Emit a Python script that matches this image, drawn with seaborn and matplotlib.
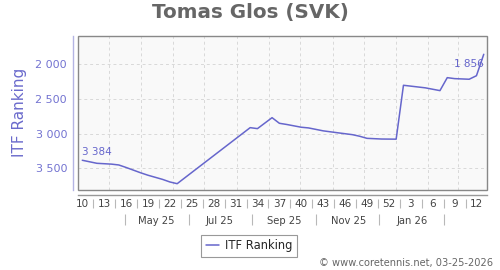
import numpy as np
import pandas as pd
import matplotlib
matplotlib.use("Agg")
import matplotlib.pyplot as plt
import matplotlib.dates as mdates
from matplotlib.patches import Rectangle
from matplotlib.ticker import FixedLocator, FuncFormatter
import seaborn as sns

# ---- data (ISO year-week of each ranking, ITF ranking) ----
iso_weeks = ["2025-10", "2025-12", "2025-14", "2025-15", "2025-16", "2025-18",
             "2025-19", "2025-21", "2025-22", "2025-23", "2025-33", "2025-34",
             "2025-36", "2025-37", "2025-38", "2025-40", "2025-41", "2025-43",
             "2025-45", "2025-47", "2025-48", "2025-49", "2025-51", "2026-01",
             "2026-02", "2026-05", "2026-07", "2026-08", "2026-09", "2026-11",
             "2026-12", "2026-13"]
ranking = [3384, 3428, 3440, 3452, 3488, 3565,
           3600, 3660, 3697, 3722, 2914, 2928,
           2770, 2851, 2868, 2908, 2918, 2960,
           2988, 3015, 3038, 3068, 3078, 3080,
           2303, 2340, 2380, 2193, 2207, 2216,
           2165, 1856]
week_tick_weeks = ["2025-10", "2025-13", "2025-16", "2025-19", "2025-22", "2025-25",
                   "2025-28", "2025-31", "2025-34", "2025-37", "2025-40", "2025-43",
                   "2025-46", "2025-49", "2025-52", "2026-03", "2026-06", "2026-09",
                   "2026-12"]
week_tick_labels = ["10", "13", "16", "19", "22", "25", "28", "31", "34", "37",
                    "40", "43", "46", "49", "52", "3", "6", "9", "12"]
month_label_months = ["2025-05", "2025-07", "2025-09", "2025-11", "2026-01"]
month_labels = ["May 25", "Jul 25", "Sep 25", "Nov 25", "Jan 26"]
y_ticks = [2000, 2500, 3000, 3500]
title = "Tomas Glos (SVK)"
series_name = "ITF Ranking"
credit = "\u00a9 www.coretennis.net, 03-25-2026"


def iso_thursday(s):
    return pd.to_datetime(s + "-4", format="%G-%V-%u")


dates = [iso_thursday(s) for s in iso_weeks]
df = pd.DataFrame({"date": dates, "rank": ranking})

LINE = "#6666cc"
LABEL = "#7373d1"

sns.set_style("white")
plt.rcParams["font.family"] = ["DejaVu Sans"]

fig = plt.figure(figsize=(5.0, 2.7), dpi=100)
ax = fig.add_axes([0.1566, 0.2963, 0.818, 0.5715])
ax.set_facecolor("#f9f9f9")

sns.lineplot(data=df, x="date", y="rank", ax=ax, color=LINE, linewidth=1.1,
             label=series_name, legend=False)

# limits
d0 = mdates.date2num(dates[0])
ax.set_xlim(d0 - 3.8, d0 + 388.4)
ax.set_ylim(3813, 1588)

# grid
ax.xaxis.set_major_locator(mdates.MonthLocator())
ax.xaxis.set_major_formatter(FuncFormatter(lambda v, p: ""))
ax.yaxis.set_major_locator(FixedLocator(y_ticks))
ax.yaxis.set_major_formatter(FuncFormatter(lambda v, p: f"{int(v):,}".replace(",", " ")))
ax.grid(True, which="major", color="#d8d8d8", linestyle=(0, (3, 3)), linewidth=0.7)

# spines
for s in ["top", "right"]:
    ax.spines[s].set_visible(False)
ax.spines["left"].set_position(("outward", 3.6))
ax.spines["left"].set_color("#b4b4e4")
ax.spines["left"].set_linewidth(1.0)
ax.spines["bottom"].set_position(("outward", 3.6))
ax.spines["bottom"].set_color("#999999")
ax.spines["bottom"].set_linewidth(1.0)
ax.add_patch(Rectangle((0, 0), 1, 1, transform=ax.transAxes, fill=False,
                       edgecolor="#888888", linewidth=1.0, clip_on=False, zorder=5))

ax.tick_params(axis="y", length=0, pad=4.5, labelsize=8, labelcolor=LABEL)
ax.tick_params(axis="x", length=2.5, width=0.8, color="#aaaaaa", direction="out", pad=0)

ax.set_xlabel("")
ax.set_ylabel(series_name, fontsize=11, color="#6b6bcc", labelpad=6)

# week labels row
xt = ax.get_xaxis_transform()
wpos = [mdates.date2num(iso_thursday(s)) for s in week_tick_weeks]
for x, lab in zip(wpos, week_tick_labels):
    ax.text(x, -0.0875, lab, transform=xt, ha="center", va="center",
            fontsize=7.5, color="#444444")
seps = [(a + b) / 2 for a, b in zip(wpos[:-1], wpos[1:])]
ax.vlines(seps, -0.06, -0.115, transform=xt, colors="#b8b8b8", linewidth=0.8,
          clip_on=False)

# month labels row
mpos = [mdates.date2num(pd.Timestamp(m + "-16")) for m in month_label_months]
for x, lab in zip(mpos, month_labels):
    ax.text(x, -0.199, lab, transform=xt, ha="center", va="center",
            fontsize=7.2, color="#444444")
msep = [mdates.date2num(pd.Timestamp(m + "-16") - pd.DateOffset(months=1))
        for m in month_label_months]
msep.append(mdates.date2num(pd.Timestamp(month_label_months[-1] + "-16")
                            + pd.DateOffset(months=1)))
ax.vlines(msep, -0.158, -0.228, transform=xt, colors="#b8b8b8", linewidth=0.8,
          clip_on=False)

# value annotations
ax.annotate(f"{ranking[0]:,}".replace(",", " "), (dates[0], ranking[0]),
            xytext=(0, 6.2), textcoords="offset points", ha="left", va="center",
            fontsize=7.5, color=LINE)
ax.annotate(f"{ranking[-1]:,}".replace(",", " "), (dates[-1], ranking[-1]),
            xytext=(0, -7.2), textcoords="offset points", ha="right", va="center",
            fontsize=7.5, color=LINE)

# title
fig.text(0.5, 0.952, title, ha="center", va="center", fontsize=14.3,
         fontweight="bold", color="#666666")

# legend
handles, labels = ax.get_legend_handles_labels()
leg = fig.legend(handles, labels, loc="center", bbox_to_anchor=(0.498, 0.089),
                 fontsize=8.3, frameon=True, fancybox=False, framealpha=1,
                 edgecolor="#999999", handlelength=1.2, handletextpad=0.5,
                 borderpad=0.4, borderaxespad=0)
leg.get_frame().set_linewidth(0.8)

fig.text(0.986, 0.027, credit, ha="right", va="center", fontsize=7.1,
         color="#666666")

fig.savefig("out.png", dpi=100)
